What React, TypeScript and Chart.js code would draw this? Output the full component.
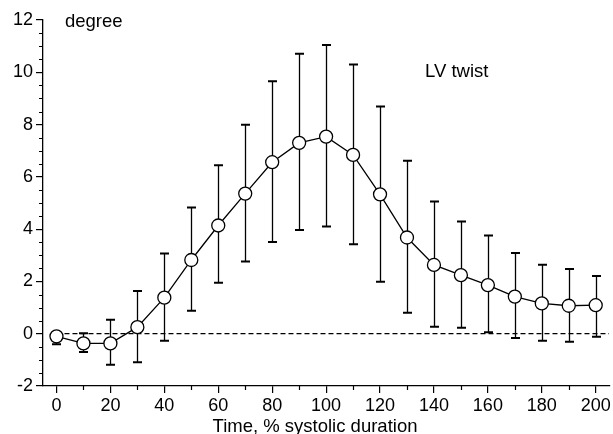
import React, { useEffect, useRef } from "react";
import { Chart, registerables } from "chart.js";

Chart.register(...registerables);

// ---- data ----
const times = [0, 10, 20, 30, 40, 50, 60, 70, 80, 90, 100, 110, 120, 130, 140, 150, 160, 170, 180, 190, 200];
const means = [-0.1, -0.37, -0.37, 0.25, 1.38, 2.82, 4.14, 5.36, 6.56, 7.3, 7.54, 6.84, 5.33, 3.68, 2.63, 2.24, 1.86, 1.42, 1.16, 1.07, 1.09];
const upperBounds = [0.0, 0.02, 0.53, 1.63, 3.07, 4.83, 6.44, 7.99, 9.66, 10.71, 11.04, 10.3, 8.69, 6.62, 5.06, 4.29, 3.76, 3.09, 2.64, 2.48, 2.21];
const lowerBounds = [-0.4, -0.7, -1.19, -1.09, -0.27, 0.88, 1.95, 2.76, 3.51, 3.97, 4.1, 3.42, 1.99, 0.8, 0.27, 0.23, 0.06, -0.16, -0.27, -0.31, -0.12];
const zeroLineXs = [0, 205];
const xTickValues = [0, 20, 40, 60, 80, 100, 120, 140, 160, 180, 200];
const xMinorTickValues = [10, 30, 50, 70, 90, 110, 130, 150, 170, 190];
const yTickValues = [-2, 0, 2, 4, 6, 8, 10, 12];
const yMinorTickValues = [-1.5, -1, -0.5, 0.5, 1, 1.5, 2.5, 3, 3.5, 4.5, 5, 5.5, 6.5, 7, 7.5, 8.5, 9, 9.5, 10.5, 11, 11.5];
const yUnitLabel = "degree";
const seriesLabel = "LV twist";
const xAxisTitle = "Time, % systolic duration";

const FONT = "'Liberation Sans', Arial, sans-serif";

const decorPlugin = {
  id: "decor",
  beforeDatasetsDraw(chart: any) {
    const { ctx, scales } = chart;
    const xs = scales.x;
    const ys = scales.y;
    ctx.save();
    ctx.strokeStyle = "#000";
    const cap = 4.5;
    times.forEach((t, i) => {
      const px = Math.round(xs.getPixelForValue(t)) + 0.5;
      const pu = ys.getPixelForValue(upperBounds[i]);
      const pl = ys.getPixelForValue(lowerBounds[i]);
      ctx.lineWidth = 1.3;
      ctx.beginPath();
      ctx.moveTo(px, pu);
      ctx.lineTo(px, pl);
      ctx.stroke();
      ctx.lineWidth = 2;
      ctx.beginPath();
      ctx.moveTo(px - cap, pu);
      ctx.lineTo(px + cap, pu);
      ctx.moveTo(px - cap, pl);
      ctx.lineTo(px + cap, pl);
      ctx.stroke();
    });
    ctx.restore();
  },
  afterDraw(chart: any) {
    const { ctx, scales, chartArea } = chart;
    const xs = scales.x;
    const ys = scales.y;
    ctx.save();
    ctx.strokeStyle = "#000";
    ctx.lineWidth = 1.2;
    ctx.beginPath();
    yMinorTickValues.forEach((v) => {
      const py = Math.round(ys.getPixelForValue(v)) + 0.5;
      ctx.moveTo(chartArea.left - 4, py);
      ctx.lineTo(chartArea.left, py);
    });
    xMinorTickValues.forEach((v) => {
      const px = Math.round(xs.getPixelForValue(v)) + 0.5;
      ctx.moveTo(px, chartArea.bottom);
      ctx.lineTo(px, chartArea.bottom + 4);
    });
    ctx.stroke();

    ctx.fillStyle = "#000";
    ctx.font = `18.5px ${FONT}`;
    ctx.textBaseline = "alphabetic";
    ctx.textAlign = "left";
    ctx.fillText(yUnitLabel, chartArea.left + 22, 26.5);
    ctx.fillText(seriesLabel, 425, 77);
    ctx.textAlign = "center";
    ctx.fillText(xAxisTitle, 315, 432);
    ctx.restore();
  },
};

export default function App() {
  const ref = useRef<HTMLCanvasElement | null>(null);
  useEffect(() => {
    if (!ref.current) return;
    const chart = new Chart(ref.current, {
      type: "line",
      data: {
        datasets: [
          {
            label: "zero",
            data: zeroLineXs.map((x) => ({ x, y: 0 })),
            borderColor: "#000",
            borderWidth: 1.2,
            borderDash: [5, 3],
            pointRadius: 0,
            fill: false,
            order: 3,
          },
          {
            label: seriesLabel,
            data: times.map((t, i) => ({ x: t, y: means[i] })),
            borderColor: "#000",
            borderWidth: 1.3,
            pointRadius: 6.5,
            pointBackgroundColor: "#fff",
            pointBorderColor: "#000",
            pointBorderWidth: 1.3,
            fill: false,
            tension: 0,
            order: 1,
          },
        ],
      },
      options: {
        responsive: false,
        animation: false,
        events: [],
        layout: { padding: { top: 20, right: 4, left: 0, bottom: 0 } },
        plugins: { legend: { display: false }, tooltip: { enabled: false } },
        scales: {
          x: {
            type: "linear",
            min: -5,
            max: 205,
            afterFit: (s: any) => {
              s.height = 48;
              s.paddingLeft = 0;
              s.paddingRight = 0;
            },
            afterBuildTicks: (s: any) => {
              s.ticks = xTickValues.map((v) => ({ value: v }));
            },
            grid: {
              drawOnChartArea: false,
              drawTicks: true,
              tickLength: 7,
              color: "#000",
              lineWidth: 1.2,
            },
            border: { display: true, color: "#000", width: 1.3 },
            ticks: {
              color: "#000",
              font: { family: FONT, size: 18 },
              padding: 2,
              maxRotation: 0,
              autoSkip: false,
            },
          },
          y: {
            type: "linear",
            min: -2,
            max: 12,
            afterFit: (s: any) => {
              s.width = 43;
              s.paddingTop = 0;
              s.paddingBottom = 0;
            },
            afterBuildTicks: (s: any) => {
              s.ticks = yTickValues.map((v) => ({ value: v }));
            },
            grid: {
              drawOnChartArea: false,
              drawTicks: true,
              tickLength: 7,
              color: "#000",
              lineWidth: 1.2,
            },
            border: { display: true, color: "#000", width: 1.3 },
            ticks: {
              color: "#000",
              font: { family: FONT, size: 18 },
              padding: 3,
              autoSkip: false,
            },
          },
        },
      },
      plugins: [decorPlugin],
    } as any);
    return () => chart.destroy();
  }, []);
  return (
    <div style={{ position: "absolute", left: 0, top: 0, width: 613, height: 434, overflow: "hidden", background: "#fff" }}>
      <canvas ref={ref} width={617} height={434} style={{ display: "block" }} />
    </div>
  );
}
